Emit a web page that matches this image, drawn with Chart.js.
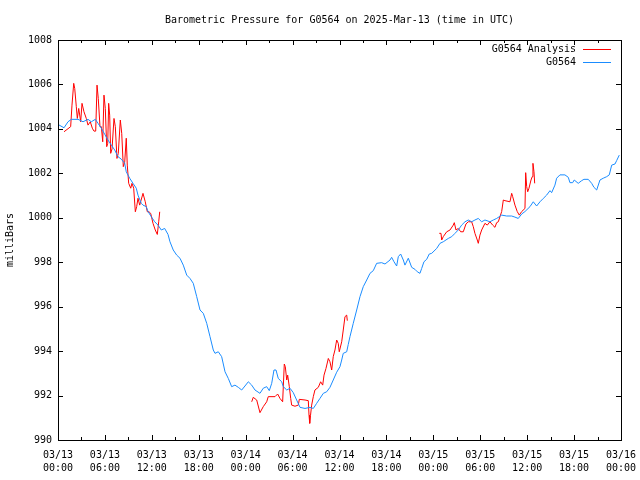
<!DOCTYPE html>
<html>
<head>
<meta charset="utf-8">
<script src="https://cdn.jsdelivr.net/npm/chart.js@4/dist/chart.umd.min.js"></script>
<style>
html,body{margin:0;padding:0;background:#fff;}
#wrap{width:640px;height:480px;}
</style>
</head>
<body>
<div id="wrap"><canvas id="c" width="640" height="480"></canvas></div>
<script>
// ---- Data (hours since 2025-03-13 00:00 UTC, pressure in mbar) ----
const chartTitle = "Barometric Pressure for G0564 on 2025-Mar-13 (time in UTC)";
const yAxisTitle = "milliBars";
const seriesNames = ["G0564 Analysis", "G0564"];

const stationHours = [0.0,0.77,1.28,1.70,2.56,3.20,3.84,4.26,4.77,5.12,5.54,5.97,6.39,6.82,7.25,7.67,8.09,8.53,8.73,9.17,9.59,10.01,10.23,10.65,10.87,11.29,11.51,11.93,12.37,12.79,13.21,13.64,14.07,14.32,14.74,15.18,15.60,16.02,16.46,16.88,17.30,17.74,18.16,18.58,19.02,19.44,19.86,20.08,20.50,20.93,21.36,21.78,22.21,22.63,23.06,23.49,23.91,24.34,24.77,25.19,25.83,26.25,26.69,27.02,27.33,27.62,27.88,28.17,28.61,28.81,29.25,29.67,30.09,30.52,30.95,31.59,32.23,32.65,33.08,33.50,33.93,34.36,34.78,35.20,35.64,36.06,36.28,36.48,36.92,37.12,37.34,37.76,38.20,38.62,39.04,39.48,39.90,40.32,40.75,41.39,41.82,42.46,42.67,42.97,43.31,43.52,43.82,44.16,44.37,44.80,45.23,45.65,45.95,46.29,46.51,46.80,47.15,47.48,47.79,48.43,48.85,49.27,49.91,50.35,50.77,51.19,51.62,52.05,52.47,52.90,53.32,53.75,54.18,54.60,55.24,55.67,56.10,56.74,57.38,58.02,58.44,58.86,59.30,59.72,60.36,60.78,61.21,61.64,62.06,62.49,62.92,63.13,63.55,63.77,64.19,64.83,65.26,65.47,65.82,66.02,66.53,66.97,67.26,67.81,68.25,68.54,68.89,69.31,69.73,70.17,70.50,70.81,71.23,71.44,71.78];
const stationValues = [1004.2,1004.05,1004.32,1004.43,1004.43,1004.32,1004.43,1004.32,1004.43,1004.25,1004.03,1003.76,1003.5,1003.27,1003.05,1002.75,1002.64,1002.45,1002.07,1001.78,1001.55,1001.33,1001.02,1000.65,1000.57,1000.5,1000.28,1000.05,999.82,999.67,999.45,999.52,999.25,998.92,998.55,998.32,998.18,997.87,997.42,997.27,997.05,996.45,995.85,995.7,995.25,994.65,994.05,993.9,993.97,993.75,993.07,992.77,992.4,992.47,992.37,992.25,992.43,992.62,992.47,992.25,992.1,992.33,992.4,992.22,992.55,993.15,993.15,992.77,992.62,992.4,992.25,992.33,992.13,991.8,991.47,991.42,991.47,991.42,991.65,991.87,992.1,992.17,992.37,992.7,993.05,993.3,993.6,993.9,993.97,994.3,994.65,995.25,995.85,996.45,996.9,997.2,997.5,997.62,997.95,997.98,997.92,998.1,998.22,998.02,997.83,998.25,998.37,998.1,997.87,998.18,997.77,997.68,997.57,997.5,997.72,998.02,998.13,998.37,998.4,998.62,998.85,998.92,999.07,999.15,999.3,999.45,999.67,999.82,999.9,999.82,999.9,999.97,999.82,999.9,999.82,999.9,999.97,1000.12,1000.08,1000.08,1000.03,999.97,1000.17,1000.28,1000.5,1000.72,1000.53,1000.72,1000.87,1001.02,1001.22,1001.13,1001.47,1001.78,1001.93,1001.93,1001.82,1001.58,1001.58,1001.7,1001.55,1001.67,1001.73,1001.73,1001.55,1001.37,1001.25,1001.7,1001.78,1001.85,1001.93,1002.37,1002.42,1002.57,1002.82];

const analysisHours1 = [0.77,1.62,1.79,2.01,2.14,2.34,2.47,2.65,2.90,3.07,3.32,3.62,3.84,4.13,4.39,4.60,4.82,4.99,5.15,5.37,5.54,5.72,5.88,6.05,6.23,6.36,6.48,6.61,6.74,6.91,7.16,7.33,7.54,7.71,7.97,8.15,8.35,8.53,8.73,8.86,9.04,9.30,9.46,9.68,9.89,10.06,10.23,10.45,10.87,11.16,11.42,11.64,11.85,12.15,12.44,12.70,12.88,13.01];
const analysisValues1 = [1003.87,1004.1,1005.07,1006.05,1005.82,1005.0,1004.47,1004.92,1004.32,1005.15,1004.77,1004.47,1004.17,1004.32,1004.03,1003.9,1003.9,1005.97,1005.37,1004.1,1004.1,1003.42,1005.52,1004.92,1003.2,1003.35,1005.15,1004.62,1002.9,1003.1,1004.47,1004.1,1002.67,1002.9,1004.4,1003.8,1002.3,1002.5,1003.58,1002.37,1001.55,1001.33,1001.55,1001.33,1000.27,1000.5,1000.88,1000.57,1001.1,1000.72,1000.27,1000.27,1000.2,999.75,999.45,999.25,999.82,1000.27];

const analysisHours2 = [24.77,24.97,25.41,25.83,26.25,26.69,26.89,27.75,28.09,28.39,28.73,28.94,29.07,29.25,29.37,29.58,29.76,29.88,30.31,30.73,30.86,31.59,32.01,32.10,32.19,32.29,32.44,32.65,32.86,33.29,33.59,33.85,34.02,34.27,34.57,34.78,35.00,35.20,35.42,35.64,35.84,35.97,36.28,36.48,36.70,36.92,37.00];
const analysisValues2 = [991.72,991.92,991.8,991.23,991.5,991.72,991.95,991.95,992.07,991.87,991.72,993.42,993.3,992.7,992.92,992.4,991.87,991.57,991.52,991.57,991.83,991.8,991.77,991.12,990.75,991.1,991.57,991.95,992.25,992.37,992.62,992.47,992.92,993.22,993.67,993.52,993.15,993.75,994.05,994.5,994.35,993.97,994.42,994.95,995.55,995.62,995.37];

const analysisHours3 = [48.76,48.98,49.07,49.27,49.71,50.13,50.55,50.68,50.90,51.19,51.50,51.83,52.17,52.47,52.90,53.11,53.32,53.62,53.75,53.96,54.18,54.60,54.90,55.24,55.59,55.88,56.10,56.31,56.52,56.74,56.95,57.16,57.80,58.02,58.15,58.44,58.73,58.99,59.30,59.72,59.81,59.94,60.07,60.23,60.49,60.65,60.74,60.87,60.96];
const analysisValues3 = [999.3,999.3,999.0,999.15,999.37,999.45,999.67,999.78,999.45,999.52,999.37,999.37,999.72,999.82,999.82,999.6,999.3,999.0,998.85,999.22,999.45,999.75,999.67,999.82,999.67,999.57,999.78,999.82,1000.05,1000.28,1000.8,1000.77,1000.72,1001.1,1000.95,1000.57,1000.28,1000.12,1000.28,1000.42,1002.03,1001.4,1001.17,1001.33,1001.7,1001.85,1002.45,1002.07,1001.55];

const xTickHours = [0,6,12,18,24,30,36,42,48,54,60,66,72];
const xTickLabels = [["03/13","00:00"],["03/13","06:00"],["03/13","12:00"],["03/13","18:00"],["03/14","00:00"],["03/14","06:00"],["03/14","12:00"],["03/14","18:00"],["03/15","00:00"],["03/15","06:00"],["03/15","12:00"],["03/15","18:00"],["03/16","00:00"]];
const yTickValues = [990,992,994,996,998,1000,1002,1004,1006,1008];

// ---- Build datasets ----
function pts(hs, vs){ return hs.map((h,i)=>({x:h, y:vs[i]})); }
const analysisSegments = [[analysisHours1,analysisValues1],[analysisHours2,analysisValues2],[analysisHours3,analysisValues3]];
const analysisData = [];
analysisSegments.forEach((seg, k) => {
  if (k > 0) analysisData.push({x: seg[0][0] - 0.01, y: null});
  analysisData.push(...pts(seg[0], seg[1]));
});
const stationData = pts(stationHours, stationValues);

const FONT = '"DejaVu Sans Mono", "Liberation Mono", monospace';
const COLORS = ['#ff0000', '#1a8cff'];

const framePlugin = {
  id: 'gnuFrame',
  afterDraw(chart){
    const {ctx, chartArea:a, scales:{x, y}} = chart;
    ctx.save();
    // title, centred over the plot area
    ctx.font = '10px ' + FONT;
    ctx.fillStyle = '#000';
    ctx.textAlign = 'center';
    ctx.textBaseline = 'middle';
    ctx.fillText(chartTitle, (a.left + a.right) / 2, 20);

    ctx.strokeStyle = '#000';
    ctx.lineWidth = 1;
    ctx.beginPath();
    // x ticks (major every 6h, minor every 3h)
    for (let h = 0; h <= 72; h += 3) {
      const px = Math.round(x.getPixelForValue(h)) + 0.5;
      const len = (h % 6 === 0) ? 5 : 3;
      ctx.moveTo(px, a.bottom); ctx.lineTo(px, a.bottom - len);
      ctx.moveTo(px, a.top); ctx.lineTo(px, a.top + len);
    }
    yTickValues.forEach(v => {
      const py = Math.round(y.getPixelForValue(v)) + 0.5;
      ctx.moveTo(a.left, py); ctx.lineTo(a.left + 5, py);
      ctx.moveTo(a.right, py); ctx.lineTo(a.right - 5, py);
    });
    ctx.stroke();
    ctx.strokeRect(Math.round(a.left) + 0.5, Math.round(a.top) + 0.5, Math.round(a.right - a.left), Math.round(a.bottom - a.top));
    // legend (top right, inside plot)
    ctx.textAlign = 'right';
    chart.data.datasets.forEach((ds, i) => {
      const ly = 49 + i * 13;
      ctx.fillStyle = '#000';
      ctx.fillText(ds.label, a.right - 45, ly + 0.5);
      ctx.strokeStyle = ds.borderColor;
      ctx.beginPath();
      ctx.moveTo(a.right - 38, ly + 0.5);
      ctx.lineTo(a.right - 10, ly + 0.5);
      ctx.stroke();
    });
    ctx.restore();
  }
};

new Chart(document.getElementById('c'), {
  type: 'line',
  data: {
    datasets: [
      { label: seriesNames[0], data: analysisData, borderColor: COLORS[0], borderWidth: 1, pointRadius: 0, tension: 0, spanGaps: false, fill: false, order: 2 },
      { label: seriesNames[1], data: stationData, borderColor: COLORS[1], borderWidth: 1, pointRadius: 0, tension: 0, fill: false, order: 1 }
    ]
  },
  options: {
    responsive: false,
    animation: false,
    devicePixelRatio: 1,
    layout: { padding: { left: 0, right: 19, top: 40, bottom: 0 } },
    plugins: {
      legend: { display: false },
      tooltip: { enabled: false },
      title: { display: false }
    },
    scales: {
      x: {
        type: 'linear',
        min: 0, max: 72,
        grid: { display: false, drawTicks: false },
        border: { display: false },
        ticks: {
          stepSize: 6,
          autoSkip: false,
          maxRotation: 0,
          padding: 9,
          color: '#000',
          font: { family: FONT, size: 10, lineHeight: 1.3 },
          callback: (v) => { const i = xTickHours.indexOf(v); return i >= 0 ? xTickLabels[i] : ''; }
        },
        afterFit: (s) => { s.height = 40; s.paddingLeft = 0; s.paddingRight = 0; }
      },
      y: {
        type: 'linear',
        min: 990, max: 1008,
        grid: { display: false, drawTicks: false },
        border: { display: false },
        title: { display: true, text: yAxisTitle, color: '#000', font: { family: FONT, size: 10 }, padding: { top: 4, bottom: 0 } },
        ticks: {
          stepSize: 2,
          padding: 6,
          color: '#000',
          font: { family: FONT, size: 10 },
          callback: (v) => yTickValues.includes(v) ? String(v) : ''
        },
        afterFit: (s) => { s.width = 58; s.paddingTop = 0; s.paddingBottom = 0; }
      }
    }
  },
  plugins: [framePlugin]
});
</script>
</body>
</html>
